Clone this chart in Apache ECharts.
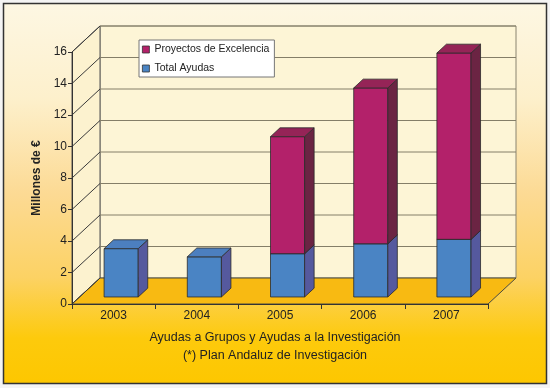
<!DOCTYPE html>
<html>
<head>
<meta charset="utf-8">
<script src="https://cdn.jsdelivr.net/npm/echarts@6/dist/echarts.min.js"></script>
<style>html,body{margin:0;padding:0;background:#f4f4f4;}#c{width:550px;height:388px;}</style>
</head>
<body>
<div id="c"></div>
<script>
const categories = ['2003', '2004', '2005', '2006', '2007'];
const totalAyudas = [3.07, 2.55, 2.75, 3.38, 3.66];
const proyectos = [0, 0, 7.43, 9.89, 11.83];
const yTicks = [0, 2, 4, 6, 8, 10, 12, 14, 16];

const DX = 28, DY = -26;          // wall depth in px
const FRONT = 0.27, DEPTH = 0.34; // bar placement within depth
const BAR_RATIO = 0.41;
const FONT = '"Liberation Sans", Arial, sans-serif';

function wallsRender(params, api) {
  const cs = params.coordSys;
  const L = cs.x, R = cs.x + cs.width, T = cs.y, B = cs.y + cs.height;
  const children = [];
  children.push({type: 'polygon', shape: {points: [[L + DX, T + DY], [R + DX, T + DY], [R + DX, B + DY], [L + DX, B + DY]]},
    style: {fill: '#fdf5d6', stroke: '#8a8470', lineWidth: 1}});
  children.push({type: 'polygon', shape: {points: [[L, T], [L + DX, T + DY], [L + DX, B + DY], [L, B]]},
    style: {fill: '#fcf2cf', stroke: '#555', lineWidth: 1}});
  children.push({type: 'polygon', shape: {points: [[L, B], [L + DX, B + DY], [R + DX, B + DY], [R, B]]},
    style: {fill: '#f8ba12', stroke: '#4a4a40', lineWidth: 1}});
  yTicks.forEach(function (v) {
    const y = api.coord([0, v])[1];
    if (v > 0) {
      children.push({type: 'line', shape: {x1: L + DX, y1: y + DY, x2: R + DX, y2: y + DY},
        style: {stroke: '#847e68', lineWidth: 1}});
    }
    children.push({type: 'line', shape: {x1: L, y1: y, x2: L + DX, y2: y + DY},
      style: {stroke: '#3a3a3a', lineWidth: 1}});
  });
  return {type: 'group', children: children};
}

function boxRender(front, side, top) {
  return function (params, api) {
    const c = api.value(0), b = api.value(1), t = api.value(2);
    const p0 = api.coord([c, b]);
    const p1 = api.coord([c, t]);
    const bw = api.size([1, 0])[0] * BAR_RATIO;
    const ox = DX * FRONT, oy = DY * FRONT;
    const dx = DX * DEPTH, dy = DY * DEPTH;
    const x0 = p0[0] - bw / 2 + ox, x1 = x0 + bw;
    const yb = p0[1] + oy, yt = p1[1] + oy;
    const st = {stroke: '#2b2b2b', lineWidth: 0.8};
    return {type: 'group', children: [
      {type: 'polygon', shape: {points: [[x0, yt], [x1, yt], [x1, yb], [x0, yb]]}, style: Object.assign({fill: front}, st)},
      {type: 'polygon', shape: {points: [[x1, yt], [x1 + dx, yt + dy], [x1 + dx, yb + dy], [x1, yb]]}, style: Object.assign({fill: side}, st)},
      {type: 'polygon', shape: {points: [[x0, yt], [x0 + dx, yt + dy], [x1 + dx, yt + dy], [x1, yt]]}, style: Object.assign({fill: top}, st)}
    ]};
  };
}

const blueData = categories.map(function (c, i) { return [i, 0, totalAyudas[i]]; });
const magData = [];
categories.forEach(function (c, i) {
  if (proyectos[i] > 0) magData.push([i, totalAyudas[i], totalAyudas[i] + proyectos[i]]);
});

const chart = echarts.init(document.getElementById('c'), null, {renderer: 'canvas'});
chart.setOption({
  animation: false,
  textStyle: {fontFamily: FONT},
  graphic: {elements: [{
    type: 'rect', z: -10, silent: true,
    shape: {x: 3.5, y: 3.5, width: 543, height: 380},
    style: {
      fill: {type: 'linear', x: 0, y: 0, x2: 0, y2: 1, colorStops: [
        {offset: 0, color: '#fdf7e3'},
        {offset: 0.25, color: '#fdf0cc'},
        {offset: 0.5, color: '#fcda94'},
        {offset: 0.72, color: '#fcd264'},
        {offset: 0.88, color: '#fdca0c'},
        {offset: 1, color: '#fdc700'}
      ]},
      stroke: '#333', lineWidth: 1.5
    }
  }]},
  title: {
    text: 'Ayudas a Grupos y Ayudas a la Investigación',
    subtext: '(*) Plan Andaluz de Investigación',
    left: 'center', top: 331, itemGap: 5, padding: 0,
    textStyle: {fontSize: 12.5, fontWeight: 'normal', color: '#222', fontFamily: FONT},
    subtextStyle: {fontSize: 12.5, color: '#222', fontFamily: FONT}
  },
  legend: {
    data: ['Proyectos de Excelencia', 'Total Ayudas'],
    orient: 'vertical', left: 139, top: 40, z: 10,
    backgroundColor: '#ffffff', borderColor: '#777', borderWidth: 1,
    padding: [4, 5, 3, 3], itemGap: 8, itemWidth: 7, itemHeight: 7,
    icon: 'rect',
    itemStyle: {borderColor: '#333', borderWidth: 0.8},
    textStyle: {fontSize: 10.5, color: '#222', fontFamily: FONT}
  },
  grid: {left: 72, top: 52, width: 416, height: 252, containLabel: false},
  xAxis: {
    type: 'category', data: categories, z: 5,
    axisLine: {show: true, lineStyle: {color: '#333', width: 1}},
    axisTick: {show: true, alignWithLabel: false, interval: 0, length: 5, lineStyle: {color: '#333'}},
    axisLabel: {margin: 6, fontSize: 12, color: '#222', fontFamily: FONT},
    splitLine: {show: false}
  },
  yAxis: {
    type: 'value', min: 0, max: 16, interval: 2, z: 5,
    name: 'Millones de €', nameLocation: 'middle', nameGap: 26, nameRotate: 90,
    nameTextStyle: {fontSize: 12, fontWeight: 'bold', color: '#222', fontFamily: FONT},
    axisLine: {show: true, lineStyle: {color: '#333', width: 1}},
    axisTick: {show: true, length: 4, lineStyle: {color: '#333'}},
    axisLabel: {margin: 5, fontSize: 12, color: '#222', fontFamily: FONT},
    splitLine: {show: false}
  },
  series: [
    {type: 'custom', name: 'walls', silent: true, z: 1, data: [[0, 0]], renderItem: wallsRender, encode: {x: 0, y: 1}},
    {type: 'custom', name: 'Total Ayudas', z: 2, itemStyle: {color: '#4a84c4'},
      data: blueData, encode: {x: 0, y: [1, 2]}, renderItem: boxRender('#4a84c4', '#55599e', '#4c7fbf')},
    {type: 'custom', name: 'Proyectos de Excelencia', z: 3, itemStyle: {color: '#b3216a'},
      data: magData, encode: {x: 0, y: [1, 2]}, renderItem: boxRender('#b3216a', '#6b2443', '#952457')}
  ]
});
</script>
</body>
</html>
